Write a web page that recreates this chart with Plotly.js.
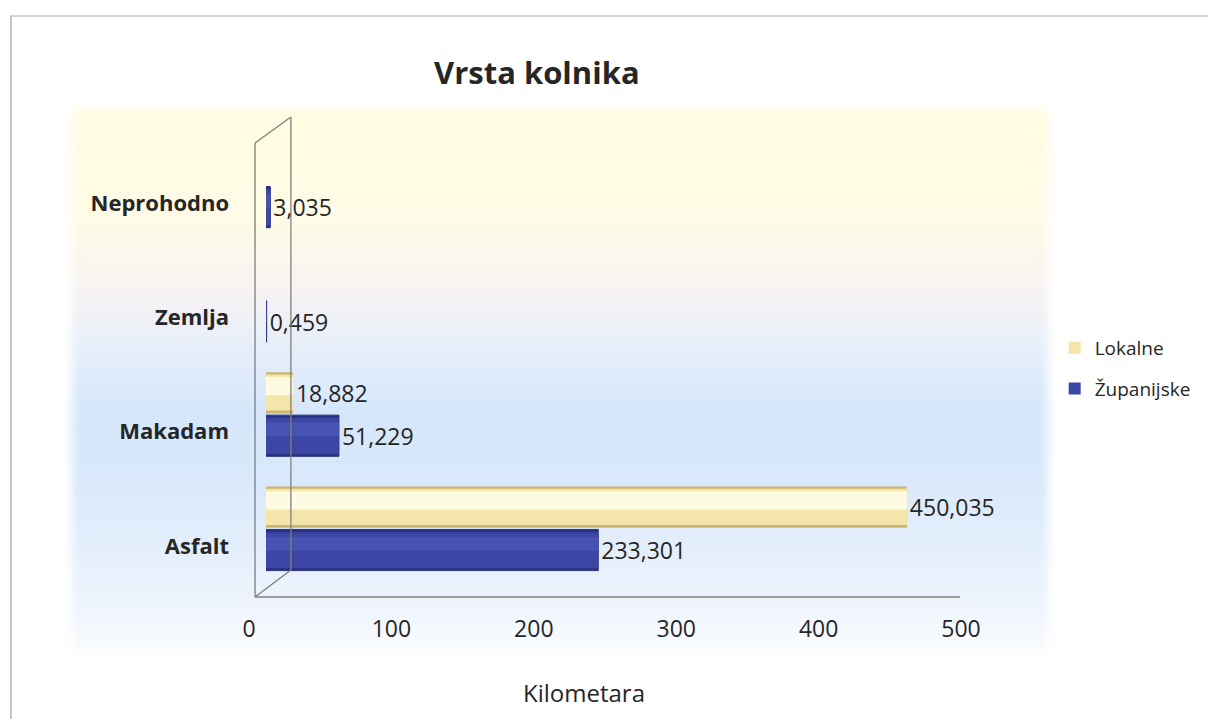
<!DOCTYPE html>
<html>
<head>
<meta charset="utf-8">
<script src="https://cdn.plot.ly/plotly-3.0.1.min.js"></script>
<style>
  html, body { margin: 0; padding: 0; background: #ffffff; }
  #wrap { position: relative; width: 1208px; height: 719px; overflow: hidden; background: #ffffff; }
  #frame { position: absolute; left: 10px; top: 15px; width: 1300px; height: 800px;
           border-left: 2px solid #c4c4c4; border-top: 2px solid #d2d2d2; }
  #bg { position: absolute; left: 72px; top: 108px; width: 976px; height: 547px;
        background: linear-gradient(to bottom,
          #fffce0 0%, #fffbe6 20%, #f8f3f2 33%, #e6eefa 44%, #d6e7fb 55%,
          #d8e8fb 66%, #e3eefb 80%, #eef4fc 91%, #fbfdff 100%);
        filter: blur(5px); }
  #chart { position: absolute; left: 0; top: 0; width: 1208px; height: 719px; }
</style>
</head>
<body>
<div id="wrap">
  <div id="frame"></div>
  <div id="bg"></div>
  <div id="chart"></div>
</div>
<script>
// ---- data ----
const categories = ['Asfalt', 'Makadam', 'Zemlja', 'Neprohodno'];
const lokalne = [450.035, 18.882, null, null];
const zupanijske = [233.301, 51.229, 0.459, 3.035];
const seriesNames = ['Lokalne', 'Županijske'];
const xTickVals = [0, 100, 200, 300, 400, 500];
const chartTitle = 'Vrsta kolnika';
const xTitle = 'Kilometara';

const FONT = 'Open Sans, Lato, sans-serif';

function layer(name, values, color, offset, width, main, group, lineColor) {
  const t = {
    type: 'bar', orientation: 'h', name: name,
    x: values, y: categories,
    offset: offset, width: width,
    marker: { color: color, line: { width: lineColor ? 1 : 0, color: lineColor || color } },
    legendgroup: group, showlegend: !!main,
    hoverinfo: main ? 'x+y+name' : 'skip'
  };
  if (main) {
    t.texttemplate = '%{x:.3f}';
    t.textposition = 'outside';
    t.cliponaxis = false;
    t.constraintext = 'none';
    t.textfont = { family: FONT, size: 23, color: '#262626' };
  }
  return t;
}

const traces = [
  // Lokalne cylinder (shadow, body, highlight)
  layer(seriesNames[0], lokalne, '#cdb471', 0.16, 0.36, false, 'g1'),
  layer(seriesNames[0], lokalne, '#f4e6ab', 0.185, 0.315, true, 'g1'),
  layer(seriesNames[0], lokalne, '#fffbe3', 0.32, 0.16, false, 'g1'),
  // Županijske cylinder
  layer(seriesNames[1], zupanijske, '#2a3180', -0.215, 0.36, false, 'g2', '#2a3180'),
  layer(seriesNames[1], zupanijske, '#3c46a5', -0.195, 0.315, true, 'g2'),
  layer(seriesNames[1], zupanijske, '#4753b3', -0.04, 0.12, false, 'g2')
];

// frame helper: pixel -> paper (plot area x 266..981, y 143..597)
const PL = 266, PR = 981, PT = 143, PB = 597;
const px = v => (v - PL) / (PR - PL);
const py = v => (PB - v) / (PB - PT);
const wall = { color: '#7f7f7f', width: 1.3 };
const shapes = [
  { type: 'line', xref: 'paper', yref: 'paper', x0: px(255), x1: px(255), y0: py(597), y1: py(143), line: wall },
  { type: 'line', xref: 'paper', yref: 'paper', x0: px(291), x1: px(291), y0: py(570), y1: py(117), line: wall },
  { type: 'line', xref: 'paper', yref: 'paper', x0: px(255), x1: px(291), y0: py(143), y1: py(117), line: wall },
  { type: 'line', xref: 'paper', yref: 'paper', x0: px(255), x1: px(291), y0: py(597), y1: py(570), line: wall },
  { type: 'line', xref: 'paper', yref: 'paper', x0: px(255), x1: px(963), y0: py(597), y1: py(597), line: wall }
];

const layout = {
  width: 1208, height: 719,
  margin: { l: PL, r: 1208 - PR, t: PT, b: 719 - PB, pad: 0 },
  paper_bgcolor: 'rgba(0,0,0,0)',
  plot_bgcolor: 'rgba(0,0,0,0)',
  separators: ',.',
  barmode: 'overlay',
  font: { family: FONT, color: '#262626' },
  title: {
    text: '<b>' + chartTitle + '</b>',
    font: { family: FONT, size: 31, color: '#262626' },
    xref: 'paper', x: px(538), xanchor: 'center',
    yref: 'container', y: 1 - 73 / 719, yanchor: 'middle'
  },
  xaxis: {
    range: [0, 500], tickvals: xTickVals, ticks: '',
    showgrid: false, zeroline: false, showline: false,
    tickfont: { family: FONT, size: 23, color: '#262626' },
    ticklabelstandoff: 16, ticklabelshift: -17,
    fixedrange: true
  },
  yaxis: {
    type: 'category', categoryarray: categories, categoryorder: 'array',
    range: [-0.446, 3.526],
    ticks: '', showgrid: false, zeroline: false, showline: false,
    tickfont: { family: FONT, size: 22, color: '#262626', weight: 'bold' },
    ticklabelstandoff: 36,
    fixedrange: true
  },
  legend: {
    x: px(1058), xanchor: 'left', y: py(329), yanchor: 'top',
    traceorder: 'grouped', tracegroupgap: 13,
    font: { family: FONT, size: 19, color: '#262626' },
    bgcolor: 'rgba(0,0,0,0)', itemwidth: 30
  },
  shapes: shapes,
  annotations: [{
    text: xTitle, showarrow: false,
    xref: 'paper', yref: 'paper', x: px(585), y: py(692),
    xanchor: 'center', yanchor: 'middle',
    font: { family: FONT, size: 24, color: '#262626' }
  }]
};

Plotly.newPlot('chart', traces, layout, { displayModeBar: false, staticPlot: true });
</script>
</body>
</html>
